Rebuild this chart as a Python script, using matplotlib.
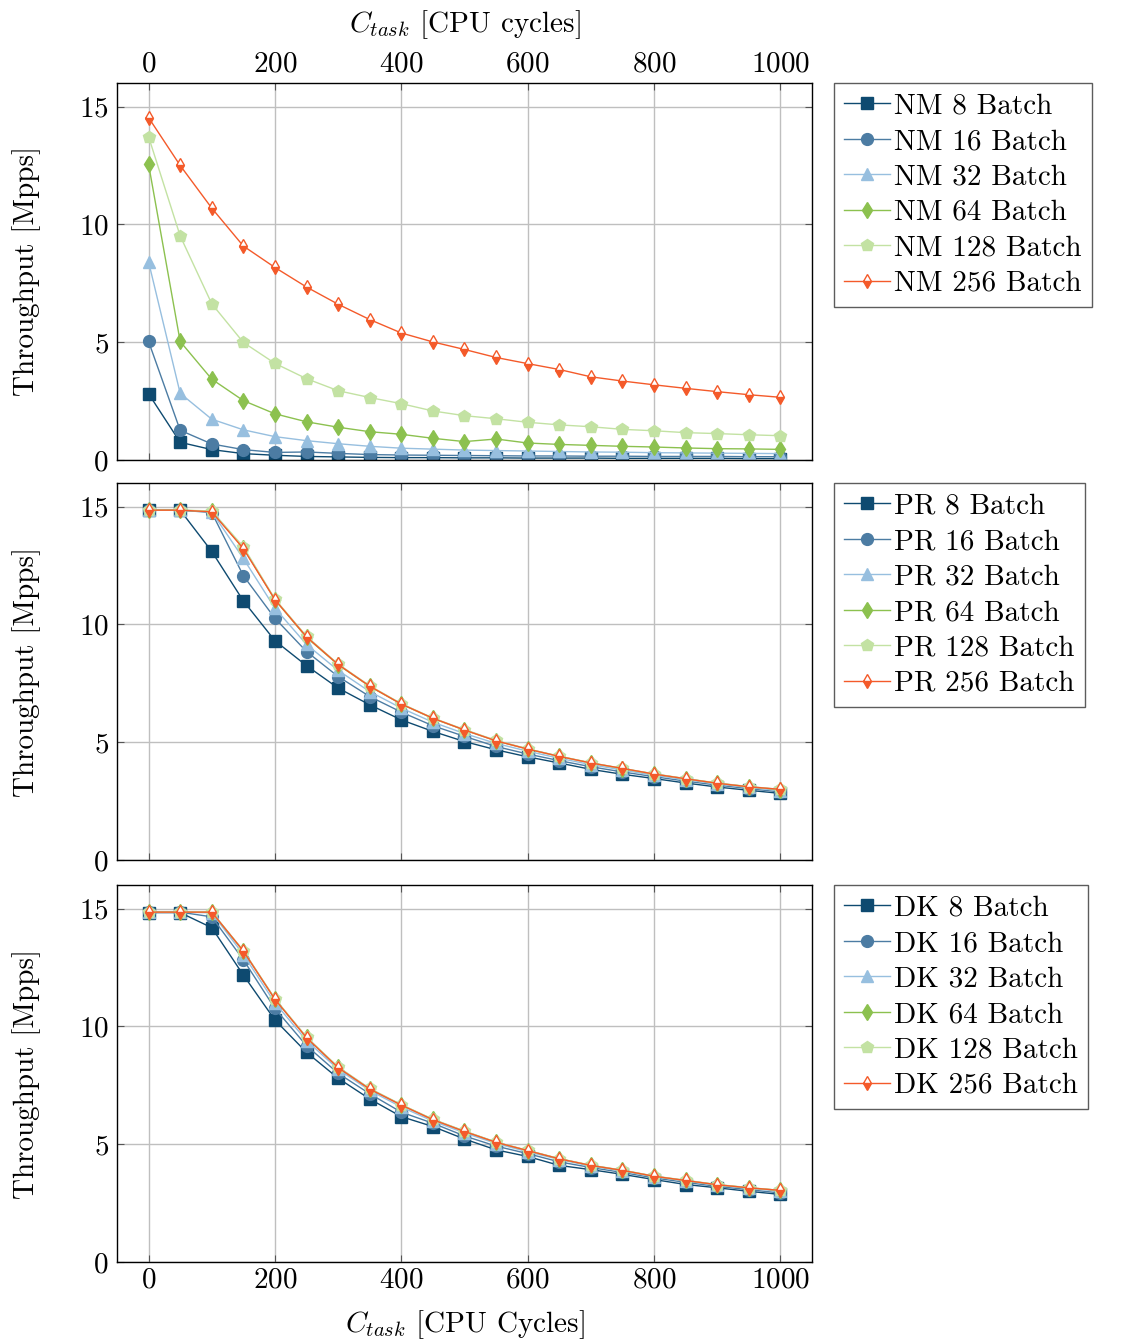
import matplotlib
matplotlib.use("Agg")
import matplotlib.pyplot as plt

plt.rcParams['font.family'] = ['cmr10', 'DejaVu Serif']
plt.rcParams['mathtext.fontset'] = 'cm'
plt.rcParams['axes.formatter.use_mathtext'] = True
plt.rcParams['font.size'] = 21

# task cost in CPU cycles
cycles = [0, 50, 100, 150, 200, 250, 300, 350, 400, 450, 500,
          550, 600, 650, 700, 750, 800, 850, 900, 950, 1000]

batches = ['8', '16', '32', '64', '128', '256']

# NM throughput [Mpps]
nm8 = [2.81, 0.75, 0.44, 0.27, 0.20, 0.15, 0.13, 0.11, 0.10, 0.10, 0.09, 0.09, 0.08, 0.08, 0.08, 0.07, 0.07, 0.07, 0.07, 0.06, 0.06]
nm16 = [5.03, 1.26, 0.68, 0.44, 0.32, 0.34, 0.28, 0.23, 0.21, 0.20, 0.19, 0.18, 0.17, 0.17, 0.16, 0.16, 0.15, 0.15, 0.15, 0.14, 0.14]
nm32 = [8.41, 2.83, 1.73, 1.28, 0.99, 0.82, 0.69, 0.58, 0.50, 0.46, 0.42, 0.40, 0.38, 0.36, 0.34, 0.33, 0.31, 0.30, 0.29, 0.28, 0.27]
nm64 = [12.55, 5.03, 3.43, 2.52, 1.96, 1.62, 1.39, 1.20, 1.09, 0.92, 0.78, 0.89, 0.72, 0.66, 0.62, 0.58, 0.55, 0.51, 0.48, 0.47, 0.45]
nm128 = [13.72, 9.51, 6.63, 4.99, 4.10, 3.45, 2.94, 2.65, 2.39, 2.08, 1.88, 1.75, 1.60, 1.49, 1.41, 1.30, 1.24, 1.16, 1.12, 1.07, 1.03]
nm256 = [14.53, 12.50, 10.69, 9.08, 8.17, 7.34, 6.61, 5.96, 5.39, 5.01, 4.69, 4.35, 4.09, 3.84, 3.53, 3.35, 3.19, 3.04, 2.90, 2.77, 2.66]

# PR throughput [Mpps]
pr8 = [14.85, 14.85, 13.10, 11.00, 9.31, 8.25, 7.30, 6.59, 5.95, 5.46, 5.03, 4.68, 4.38, 4.12, 3.85, 3.64, 3.46, 3.27, 3.10, 2.96, 2.83]
pr16 = [14.85, 14.85, 14.75, 12.07, 10.26, 8.85, 7.79, 6.94, 6.28, 5.70, 5.25, 4.82, 4.50, 4.22, 3.96, 3.74, 3.54, 3.35, 3.18, 3.03, 2.89]
pr32 = [14.85, 14.85, 14.78, 12.80, 10.69, 9.15, 8.05, 7.15, 6.45, 5.85, 5.37, 4.95, 4.62, 4.32, 4.05, 3.82, 3.60, 3.41, 3.23, 3.08, 2.95]
pr64 = [14.85, 14.85, 14.80, 13.25, 11.05, 9.45, 8.29, 7.37, 6.62, 6.01, 5.52, 5.06, 4.71, 4.40, 4.12, 3.88, 3.65, 3.45, 3.26, 3.11, 2.99]
pr128 = [14.85, 14.85, 14.82, 13.30, 11.08, 9.50, 8.32, 7.40, 6.64, 6.03, 5.54, 5.08, 4.72, 4.41, 4.13, 3.89, 3.66, 3.46, 3.27, 3.12, 3.00]
pr256 = [14.85, 14.85, 14.78, 13.22, 11.05, 9.47, 8.30, 7.38, 6.62, 6.02, 5.52, 5.06, 4.71, 4.40, 4.12, 3.89, 3.65, 3.45, 3.26, 3.11, 3.00]

# DK throughput [Mpps]
dk8 = [14.83, 14.83, 14.19, 12.18, 10.27, 8.90, 7.80, 6.92, 6.17, 5.75, 5.22, 4.76, 4.48, 4.10, 3.92, 3.72, 3.50, 3.29, 3.15, 3.00, 2.87]
dk16 = [14.85, 14.85, 14.65, 12.83, 10.76, 9.18, 8.01, 7.14, 6.36, 5.89, 5.35, 4.92, 4.60, 4.25, 4.01, 3.80, 3.57, 3.38, 3.21, 3.07, 2.93]
dk32 = [14.85, 14.85, 14.82, 13.05, 11.00, 9.40, 8.18, 7.28, 6.58, 5.98, 5.48, 5.03, 4.68, 4.35, 4.07, 3.86, 3.62, 3.44, 3.26, 3.13, 3.00]
dk64 = [14.85, 14.85, 14.85, 13.20, 11.16, 9.53, 8.26, 7.35, 6.67, 6.05, 5.55, 5.08, 4.73, 4.38, 4.10, 3.89, 3.64, 3.46, 3.28, 3.15, 3.04]
dk128 = [14.85, 14.85, 14.85, 13.22, 11.18, 9.55, 8.28, 7.37, 6.68, 6.06, 5.56, 5.09, 4.74, 4.39, 4.11, 3.90, 3.65, 3.47, 3.29, 3.16, 3.04]
dk256 = [14.85, 14.85, 14.85, 13.20, 11.15, 9.52, 8.25, 7.34, 6.66, 6.04, 5.54, 5.08, 4.73, 4.38, 4.10, 3.89, 3.64, 3.46, 3.28, 3.15, 3.04]

colors = ['#0e4a70', '#4c7ca3', '#97bfdf', '#8cc14f', '#c3e2a3', '#f45a2a']
markers = ['s', 'o', '^', 'd', 'p', 'd']
msizes = [8.5, 8.5, 8, 8, 9, 7.5]

panels = [('NM', [nm8, nm16, nm32, nm64, nm128, nm256]),
          ('PR', [pr8, pr16, pr32, pr64, pr128, pr256]),
          ('DK', [dk8, dk16, dk32, dk64, dk128, dk256])]

fig = plt.figure(figsize=(11.27, 13.43), dpi=100)
bottoms = [0.6575, 0.3596, 0.0603]
height = 0.2807

for i, (name, series) in enumerate(panels):
    ax = fig.add_axes([0.1038, bottoms[i], 0.6167, height])
    for j, ys in enumerate(series):
        kw = dict(color=colors[j], marker=markers[j], markersize=msizes[j],
                  linewidth=1.0, label=f'{name} {batches[j]} Batch')
        if j == 5:
            kw.update(fillstyle='bottom', markerfacecolor=colors[j],
                      markerfacecoloralt='white', markeredgecolor=colors[j],
                      markeredgewidth=1.0)
        else:
            kw.update(markeredgecolor=colors[j])
        ax.plot(cycles, ys, **kw)
    ax.set_xlim(-50, 1050)
    ax.set_ylim(0, 16)
    ax.set_xticks([0, 200, 400, 600, 800, 1000])
    ax.set_yticks([0, 5, 10, 15])
    ax.grid(True, color='#bfbfbf', linewidth=1.0)
    ax.set_axisbelow(True)
    ax.tick_params(direction='in', top=True, right=True, length=5,
                   color='#555555', labelsize=21, pad=6)
    ax.tick_params(axis='x', pad=4)
    ax.set_ylabel('Throughput [Mpps]', fontsize=21, labelpad=27)
    for s in ax.spines.values():
        s.set_linewidth(1.0)
    if i == 0:
        ax.xaxis.tick_top()
        ax.tick_params(bottom=True, labelbottom=False, labeltop=True)
        ax.xaxis.set_label_position('top')
        ax.set_xlabel(r'$C_{task}$ [CPU cycles]', fontsize=21, labelpad=14)
    elif i == 1:
        ax.tick_params(labelbottom=False)
    else:
        ax.set_xlabel(r'$C_{task}$ [CPU Cycles]', fontsize=21, labelpad=10)
    leg = ax.legend(loc='upper left', bbox_to_anchor=(1.032, 1.0),
                    borderaxespad=0, fancybox=False, edgecolor='#333333',
                    fontsize=21, handlelength=1.55, handletextpad=0.15,
                    labelspacing=0.31, borderpad=0.35)
    leg.get_frame().set_linewidth(1.0)

fig.savefig('out.png', dpi=100)
